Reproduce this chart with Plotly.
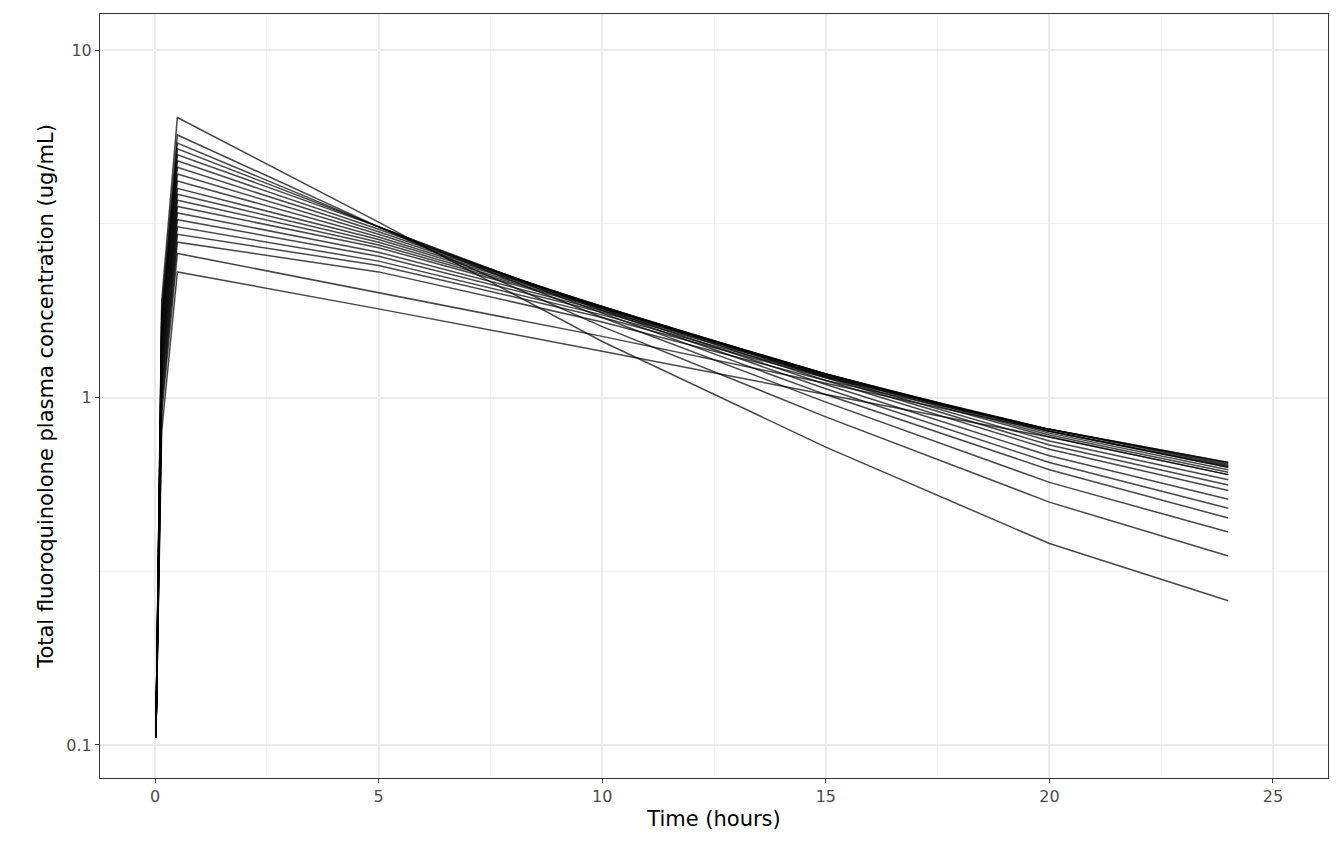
import plotly.graph_objects as go

# sampling times (hours)
times = [0.02, 0.15, 0.5, 5, 10, 15, 20, 24]

# concentration profiles (ug/mL), one list per simulated subject
profiles = [
    [0.105, 1.9, 6.4, 3.2, 1.45, 0.72, 0.38, 0.26],
    [0.105, 1.8, 5.7, 3.1, 1.60, 0.88, 0.50, 0.35],
    [0.105, 1.7, 5.4, 3.1, 1.70, 0.97, 0.57, 0.41],
    [0.105, 1.65, 5.2, 3.1, 1.75, 1.02, 0.62, 0.45],
    [0.105, 1.6, 5.0, 3.1, 1.78, 1.06, 0.65, 0.48],
    [0.105, 1.55, 4.8, 3.05, 1.80, 1.09, 0.68, 0.51],
    [0.105, 1.5, 4.6, 3.0, 1.82, 1.12, 0.71, 0.54],
    [0.105, 1.45, 4.4, 2.95, 1.83, 1.14, 0.73, 0.56],
    [0.105, 1.4, 4.2, 2.9, 1.83, 1.15, 0.75, 0.58],
    [0.105, 1.35, 4.0, 2.85, 1.83, 1.16, 0.77, 0.60],
    [0.105, 1.3, 3.85, 2.8, 1.82, 1.17, 0.78, 0.61],
    [0.105, 1.25, 3.7, 2.75, 1.81, 1.17, 0.79, 0.62],
    [0.105, 1.2, 3.55, 2.7, 1.80, 1.17, 0.80, 0.63],
    [0.105, 1.15, 3.4, 2.62, 1.78, 1.17, 0.80, 0.635],
    [0.105, 1.1, 3.25, 2.55, 1.76, 1.16, 0.81, 0.64],
    [0.105, 1.05, 3.1, 2.47, 1.73, 1.15, 0.81, 0.645],
    [0.105, 1.0, 2.95, 2.4, 1.70, 1.14, 0.81, 0.65],
    [0.105, 0.95, 2.8, 2.3, 1.65, 1.12, 0.81, 0.65],
    [0.105, 0.9, 2.6, 2.0, 1.50, 1.10, 0.80, 0.63],
    [0.105, 0.8, 2.3, 1.8, 1.36, 1.02, 0.77, 0.60],
]

fig = go.Figure()
for p in profiles:
    fig.add_trace(go.Scatter(x=times, y=p, mode="lines",
                             line=dict(color="rgba(0,0,0,0.72)", width=1.5),
                             showlegend=False, hoverinfo="skip"))

grid = "#ebebeb"
fig.update_layout(
    width=1344, height=864,
    plot_bgcolor="white", paper_bgcolor="white",
    margin=dict(l=92, r=24, t=6, b=94),
    font=dict(family="DejaVu Sans", size=16, color="#4d4d4d"),
    xaxis=dict(range=[-1.23, 26.23], tickvals=[0, 5, 10, 15, 20, 25],
               showgrid=True, gridcolor=grid, gridwidth=1.5, zeroline=False,
               minor=dict(tickvals=[2.5, 7.5, 12.5, 17.5, 22.5], showgrid=True,
                          gridcolor="#f3f3f3", gridwidth=1),
               showline=True, mirror=True, linecolor="#333333", linewidth=1,
               ticks="outside", tickcolor="#333333", ticklen=4,
               title=dict(text="Time (hours)", font=dict(size=21, color="black"), standoff=6)),
    yaxis=dict(type="log", range=[-1.095, 1.104], tickvals=[0.1, 1, 10],
               ticktext=["0.1", "1", "10"],
               showgrid=True, gridcolor=grid, gridwidth=1.5, zeroline=False,
               minor=dict(tickvals=[0.316, 3.16], showgrid=True,
                          gridcolor="#f3f3f3", gridwidth=1),
               showline=True, mirror=True, linecolor="#333333", linewidth=1,
               ticks="outside", tickcolor="#333333", ticklen=4,
               title=dict(text="Total fluoroquinolone plasma concentration (ug/mL)",
                          font=dict(size=21, color="black"), standoff=6)),
)

fig.write_html("out.html")
